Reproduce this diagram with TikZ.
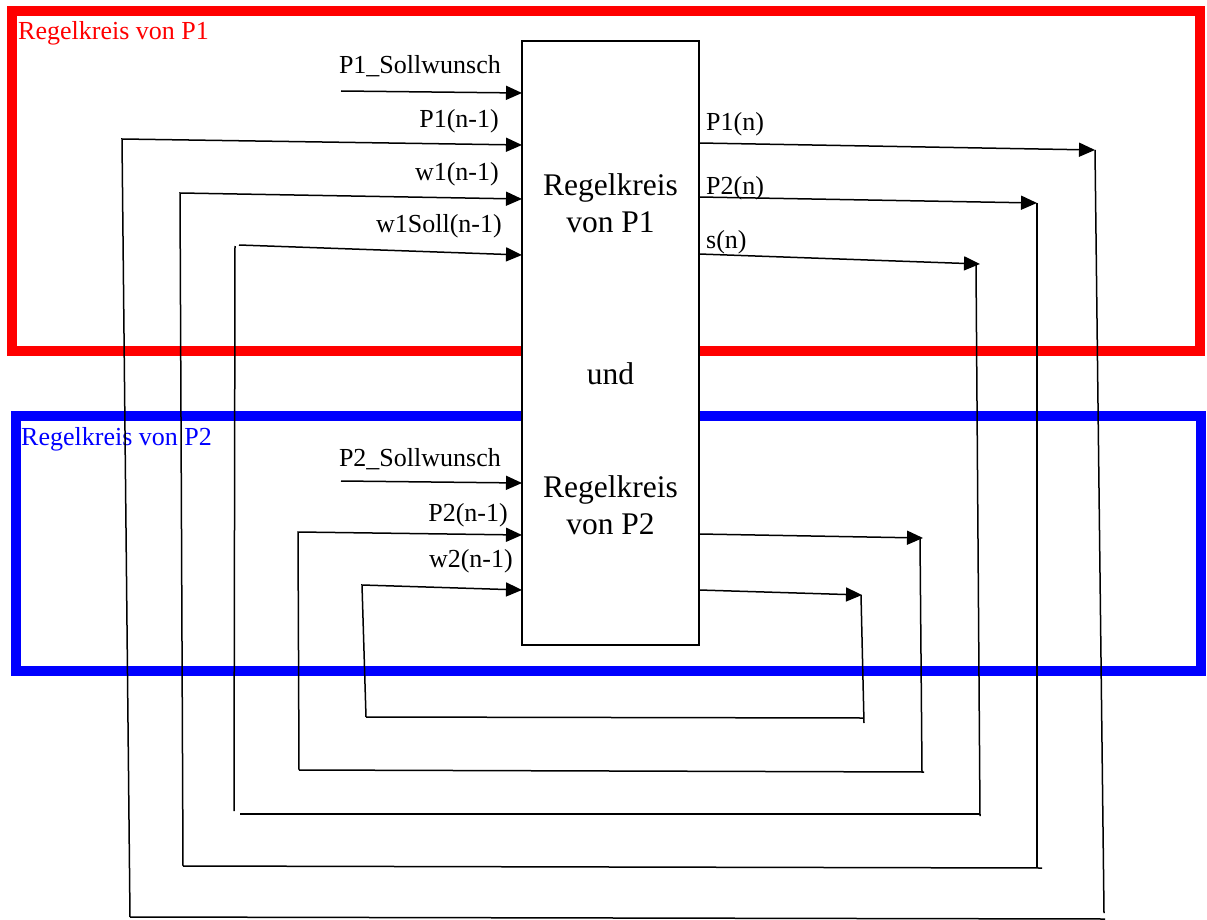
\documentclass[tikz,border=0pt]{standalone}
\usepackage{fontspec}
\setmainfont{Liberation Serif}
\usetikzlibrary{arrows.meta}
\begin{document}
\begin{tikzpicture}[x=1pt,y=-1pt,
  wire/.style={line width=1.5pt,black},
  arr/.style={wire,-{Triangle[length=16pt,width=14pt]}},
  lbl/.style={inner sep=0pt,font=\fontsize{26}{30}\selectfont},
  boxtxt/.style={inner sep=0pt,font=\fontsize{31.5}{37}\selectfont},
  frame/.style={line width=10pt}]
\useasboundingbox (0,0) rectangle (1207,920);
% frames
\draw[frame,red] (12,11) rectangle (1200,351);
\draw[frame,blue] (16,416) rectangle (1201,671);
\node[lbl,anchor=base west,text=red] (lab1) at (18,40) {Regelkreis von P1};
\node[lbl,anchor=base west,text=blue] (lab2) at (21,445) {Regelkreis von P2};
% coordinates
\coordinate (s1) at (341,91);   \coordinate (in1) at (522,93);
\coordinate (bl1) at (130,917); \coordinate (tl1) at (122,139); \coordinate (in2) at (522,145);
\coordinate (br1) at (1105,919);
\coordinate (out1) at (699,143); \coordinate (tr1) at (1095,150); \coordinate (rb1) at (1104,913);
\coordinate (bl2) at (183,866); \coordinate (tl2) at (180,193); \coordinate (in3) at (522,199);
\coordinate (br2) at (1042,868);
\coordinate (out2) at (699,197); \coordinate (tr2) at (1037,203); \coordinate (rb2) at (1037,867);
\coordinate (lt3) at (235,246); \coordinate (lb3) at (234,811);
\coordinate (tl3) at (239,245); \coordinate (in4) at (522,255);
\coordinate (bl3) at (240,814); \coordinate (br3) at (980,814);
\coordinate (out3) at (699,254); \coordinate (tr3) at (980,264);
\coordinate (rt3) at (976,265); \coordinate (rb3) at (980,816);
\coordinate (s2) at (341,481);  \coordinate (in5) at (522,483);
\coordinate (bl4) at (299,770); \coordinate (tl4) at (298,532); \coordinate (in6) at (522,535);
\coordinate (br4) at (924,772);
\coordinate (out4) at (699,534); \coordinate (tr4) at (923,538);
\coordinate (rt4) at (920,538); \coordinate (rb4) at (922,772);
\coordinate (bl5) at (366,717); \coordinate (tl5) at (362,585); \coordinate (in7) at (522,590);
\coordinate (br5) at (863,718);
\coordinate (out5) at (699,590); \coordinate (tr5) at (862,595);
\coordinate (rt5) at (861,595); \coordinate (rb5) at (864,723);
% wires
\draw[arr] (s1) -- (in1);
\draw[arr] (bl1) -- (tl1) -- (in2);
\draw[wire] (bl1) -- (br1);
\draw[arr] (out1) -- (tr1);
\draw[wire] (tr1) -- (rb1);
\draw[arr] (bl2) -- (tl2) -- (in3);
\draw[wire] (bl2) -- (br2);
\draw[arr] (out2) -- (tr2);
\draw[wire] (tr2) -- (rb2);
\draw[wire] (lt3) -- (lb3);
\draw[arr] (tl3) -- (in4);
\draw[wire] (bl3) -- (br3);
\draw[arr] (out3) -- (tr3);
\draw[wire] (rt3) -- (rb3);
\draw[arr] (s2) -- (in5);
\draw[arr] (bl4) -- (tl4) -- (in6);
\draw[wire] (bl4) -- (br4);
\draw[arr] (out4) -- (tr4);
\draw[wire] (rt4) -- (rb4);
\draw[arr] (bl5) -- (tl5) -- (in7);
\draw[wire] (bl5) -- (br5);
\draw[arr] (out5) -- (tr5);
\draw[wire] (rt5) -- (rb5);
% central box
\node[draw,fill=white,line width=1.3pt,inner sep=0pt,minimum width=177pt,minimum height=604pt] (box) at (610.5,343) {};
\node[boxtxt,anchor=base] (t1) at (610.5,196) {Regelkreis};
\node[boxtxt,anchor=base] (t2) at (610.5,233) {von P1};
\node[boxtxt,anchor=base] (t3) at (610.5,384) {und};
\node[boxtxt,anchor=base] (t4) at (610.5,497) {Regelkreis};
\node[boxtxt,anchor=base] (t5) at (610.5,534) {von P2};
% labels
\node[lbl,anchor=base east] (l1) at (501,74) {P1\_Sollwunsch};
\node[lbl,anchor=base east] (l2) at (499,128) {P1(n-1)};
\node[lbl,anchor=base east] (l3) at (499,181) {w1(n-1)};
\node[lbl,anchor=base east] (l4) at (502,233) {w1Soll(n-1)};
\node[lbl,anchor=base west] (l5) at (706,131) {P1(n)};
\node[lbl,anchor=base west] (l6) at (706,195) {P2(n)};
\node[lbl,anchor=base west] (l7) at (706,248) {s(n)};
\node[lbl,anchor=base east] (l8) at (501,466) {P2\_Sollwunsch};
\node[lbl,anchor=base east] (l9) at (508,521) {P2(n-1)};
\node[lbl,anchor=base east] (l10) at (513,567) {w2(n-1)};
\end{tikzpicture}
\end{document}
